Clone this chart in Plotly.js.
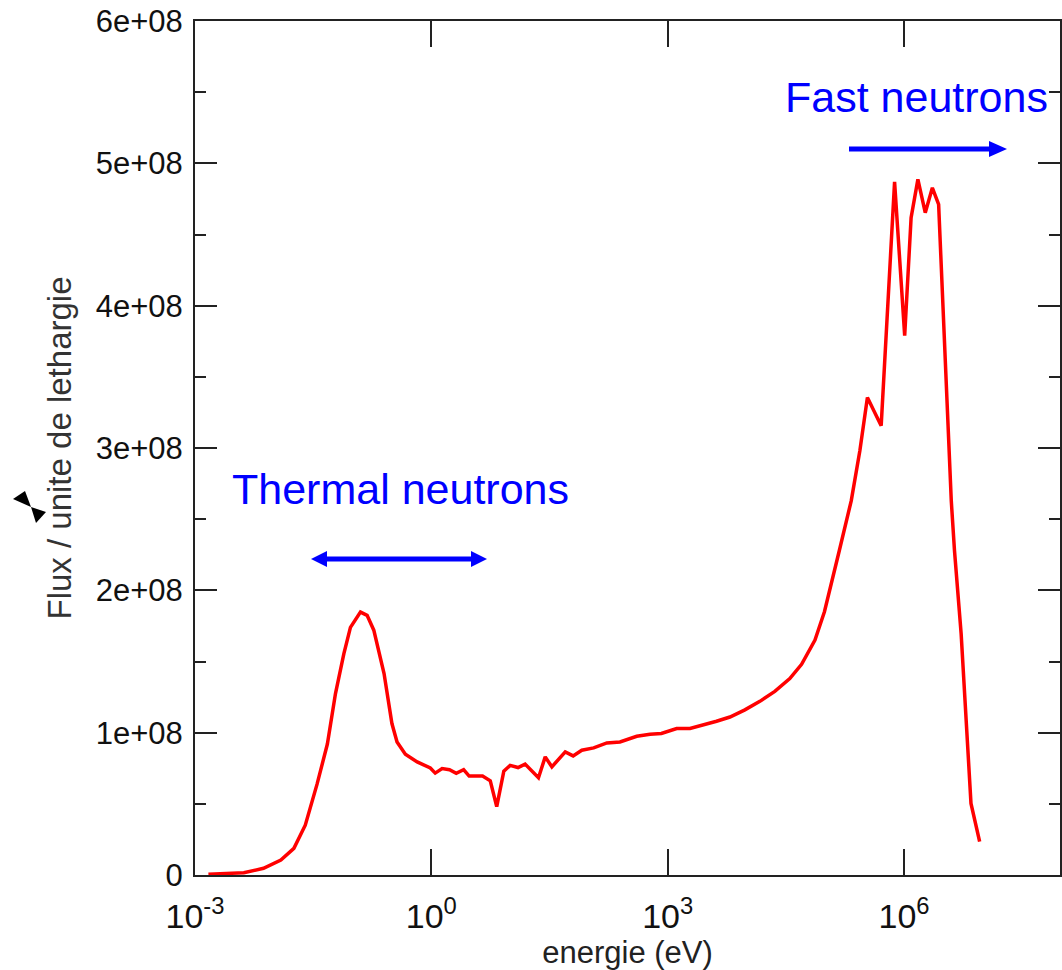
<!DOCTYPE html>
<html>
<head>
<meta charset="utf-8">
<script src="https://cdn.plot.ly/plotly-3.0.1.min.js"></script>
<style>
html,body{margin:0;padding:0;background:#fff;}
#chart{width:1062px;height:970px;}
</style>
</head>
<body>
<div id="chart"></div>
<script>
// Energy (eV) and flux per unit lethargy
const energie = [
  1.48e-3, 4.17e-3, 7.41e-3, 1.23e-2, 1.80e-2, 2.51e-2, 3.55e-2, 4.79e-2, 6.07e-2, 7.76e-2,
  9.40e-2, 0.126, 0.153, 0.186, 0.251, 0.316, 0.367, 0.468, 0.661, 0.970,
  1.12, 1.37, 1.70, 2.07, 2.57, 3.02, 4.47, 5.60, 6.76, 8.32,
  10.0, 12.6, 15.5, 22.9, 27.9, 33.9, 50.1, 63.1, 81.3, 115,
  169, 248, 405, 597, 832, 1300, 1920, 2820, 4170, 6170,
  9550, 14800, 22900, 35500, 50100, 74100, 97700, 151000, 214000, 275000,
  343000, 513000, 759000, 1.02e6, 1.23e6, 1.50e6, 1.86e6, 2.29e6, 2.75e6, 3.98e6,
  4.37e6, 5.31e6, 6.17e6, 7.08e6, 9.12e6
];
const flux = [
  0.005e8, 0.016e8, 0.047e8, 0.105e8, 0.187e8, 0.35e8, 0.64e8, 0.92e8, 1.275e8, 1.555e8,
  1.74e8, 1.847e8, 1.824e8, 1.72e8, 1.415e8, 1.064e8, 0.935e8, 0.849e8, 0.795e8, 0.752e8,
  0.716e8, 0.748e8, 0.74e8, 0.715e8, 0.74e8, 0.695e8, 0.695e8, 0.662e8, 0.48e8, 0.73e8,
  0.77e8, 0.755e8, 0.779e8, 0.683e8, 0.83e8, 0.76e8, 0.865e8, 0.837e8, 0.877e8, 0.893e8,
  0.928e8, 0.935e8, 0.975e8, 0.989e8, 0.994e8, 1.029e8, 1.029e8, 1.052e8, 1.08e8, 1.11e8,
  1.16e8, 1.22e8, 1.29e8, 1.38e8, 1.48e8, 1.65e8, 1.85e8, 2.28e8, 2.63e8, 2.98e8,
  3.355e8, 3.157e8, 4.87e8, 3.79e8, 4.618e8, 4.887e8, 4.653e8, 4.828e8, 4.711e8, 2.63e8,
  2.28e8, 1.695e8, 1.11e8, 0.503e8, 0.234e8
];
const xTickVals = [1e-3, 1, 1e3, 1e6];
const xTickText = ['10<sup>-3</sup>', '10<sup>0</sup>', '10<sup>3</sup>', '10<sup>6</sup>'];
const yTickVals = [0, 1e8, 2e8, 3e8, 4e8, 5e8, 6e8];
const yTickText = ['0', '1e+08', '2e+08', '3e+08', '4e+08', '5e+08', '6e+08'];
const labels = ['Thermal neutrons', 'Fast neutrons'];

// layout geometry (pixels) and helpers for paper coordinates
const W = 1062, H = 970;
const M = {l: 195, r: 2, t: 21, b: 95};
const PW = W - M.l - M.r, PH = H - M.t - M.b;
const px = x => (x - M.l) / PW;
const py = y => (H - M.b - y) / PH;
function poly(pts) {
  return 'M' + pts.map(p => px(p[0]).toFixed(5) + ',' + py(p[1]).toFixed(5)).join(' L') + ' Z';
}
const blue = '#0000FF';
const FONT = 'Liberation Sans, Arial, sans-serif';

const shapes = [
  // thermal double arrow
  {type: 'line', xref: 'paper', yref: 'paper', x0: px(324), x1: px(474), y0: py(559), y1: py(559),
   line: {color: blue, width: 5}},
  {type: 'path', xref: 'paper', yref: 'paper', path: poly([[311, 559], [327, 551], [327, 567]]),
   fillcolor: blue, line: {color: blue, width: 0}},
  {type: 'path', xref: 'paper', yref: 'paper', path: poly([[487, 559], [471, 551], [471, 567]]),
   fillcolor: blue, line: {color: blue, width: 0}},
  // fast arrow
  {type: 'line', xref: 'paper', yref: 'paper', x0: px(849), x1: px(992), y0: py(149), y1: py(149),
   line: {color: blue, width: 5}},
  {type: 'path', xref: 'paper', yref: 'paper', path: poly([[1007, 149], [989, 141], [989, 157]]),
   fillcolor: blue, line: {color: blue, width: 0}},
  // small black bow-tie marker near the y title
  {type: 'path', xref: 'paper', yref: 'paper', path: poly([[13, 499], [25, 491], [31, 507]]),
   fillcolor: '#000', line: {color: '#000', width: 0}},
  {type: 'path', xref: 'paper', yref: 'paper', path: poly([[31, 507], [46, 512], [36, 523]]),
   fillcolor: '#000', line: {color: '#000', width: 0}}
];

const annotations = [
  {xref: 'paper', yref: 'paper', x: px(400), y: py(489), text: labels[0], showarrow: false,
   xanchor: 'center', yanchor: 'middle', font: {family: FONT, size: 43, color: blue}},
  {xref: 'paper', yref: 'paper', x: px(916), y: py(97), text: labels[1], showarrow: false,
   xanchor: 'center', yanchor: 'middle', font: {family: FONT, size: 43, color: blue}}
];

const trace = {
  x: energie, y: flux, type: 'scatter', mode: 'lines',
  line: {color: '#FF0000', width: 3.5}, hoverinfo: 'skip'
};

const layout = {
  width: W, height: H,
  margin: M,
  paper_bgcolor: '#fff', plot_bgcolor: '#fff',
  showlegend: false,
  font: {family: FONT, color: '#111'},
  xaxis: {
    type: 'log', range: [-3, 7.98],
    tickmode: 'array', tickvals: xTickVals, ticktext: xTickText,
    ticks: 'inside', ticklen: 26, tickwidth: 2, tickcolor: '#222',
    showline: true, linecolor: '#222', linewidth: 2, mirror: 'ticks',
    showgrid: false, zeroline: false,
    tickfont: {size: 34, color: '#111'},
    ticklabelstandoff: 10,
    title: {text: 'energie (eV)', font: {size: 31, color: '#222'}, standoff: 0},
    automargin: false
  },
  yaxis: {
    range: [0, 6e8],
    tickmode: 'array', tickvals: yTickVals, ticktext: yTickText,
    ticks: 'inside', ticklen: 22, tickwidth: 2, tickcolor: '#222',
    minor: {dtick: 5e7, ticks: 'inside', ticklen: 11, tickwidth: 2, tickcolor: '#222', showgrid: false},
    showline: true, linecolor: '#222', linewidth: 2, mirror: 'ticks',
    showgrid: false, zeroline: false,
    tickfont: {size: 31, color: '#111'},
    ticklabelstandoff: 4,
    title: {text: 'Flux / unite de lethargie', font: {size: 33, color: '#333'}, standoff: 14},
    automargin: false
  },
  shapes: shapes,
  annotations: annotations
};

Plotly.newPlot('chart', [trace], layout, {displayModeBar: false, staticPlot: true});
</script>
</body>
</html>
